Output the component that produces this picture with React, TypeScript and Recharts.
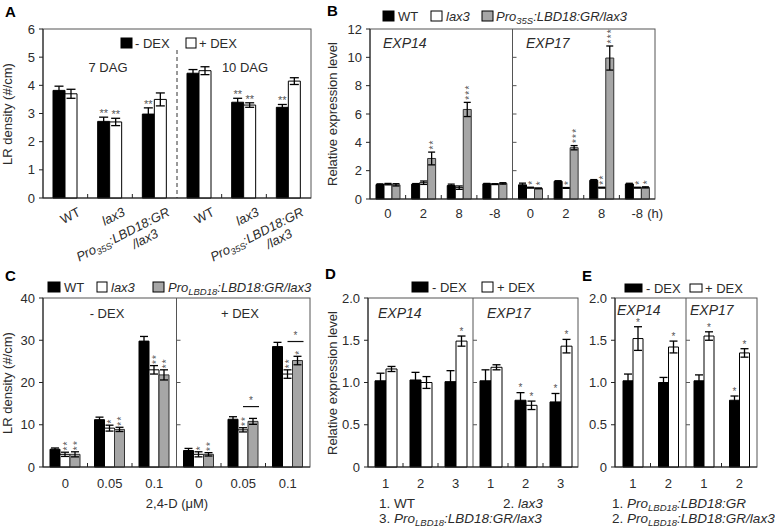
import React from 'react';
import { BarChart, Bar, XAxis, YAxis, ErrorBar, LabelList, ReferenceArea } from 'recharts';

const FONT = '"Liberation Sans", Arial, Helvetica, sans-serif';
const TXT = '#2b2b2b';
const AXIS = '#222';
const BOX = '#555';
const GREYBAR = '#a6a6a6';
const STAR = '#555';

// ---------- Panel A : LR density, 7 DAG / 10 DAG ----------
const aGenotypes = ['WT', 'lax3', 'pro35', 'WT', 'lax3', 'pro35'];
const aMinusDex = [3.82, 2.72, 2.98, 4.43, 3.4, 3.22];
const aMinusErr = [0.15, 0.15, 0.22, 0.13, 0.14, 0.1];
const aPlusDex = [3.7, 2.7, 3.5, 4.52, 3.3, 4.15];
const aPlusErr = [0.16, 0.13, 0.23, 0.14, 0.08, 0.12];
const aMinusSig = ['', '**', '**', '', '**', '**'];
const aPlusSig = ['', '**', '', '', '**', ''];
const aYTicks = [0, 1, 2, 3, 4, 5, 6];

// ---------- Panel B : EXP14 / EXP17 time course ----------
const bTimes = ['0', '2', '8', '-8', '0', '2', '8', '-8'];
const bWT = [1.02, 1.05, 0.95, 1.07, 1.0, 1.25, 1.32, 1.06];
const bWTErr = [0.05, 0.04, 0.1, 0.03, 0.12, 0.04, 0.05, 0.05];
const bLax3 = [1.05, 1.15, 0.8, 1.05, 0.8, 0.78, 0.8, 0.8];
const bLax3Err = [0.05, 0.12, 0.12, 0.03, 0.03, 0.03, 0.03, 0.03];
const bPro = [1.0, 2.86, 6.32, 1.1, 0.75, 3.62, 9.95, 0.82];
const bProErr = [0.08, 0.45, 0.5, 0.05, 0.03, 0.15, 0.85, 0.04];
const bLax3Sig = ['', '', '', '', '*', '*', '**', '*'];
const bProSig = ['', '**', '***', '', '*', '***', '***', '*'];
const bYTicks = [0, 2, 4, 6, 8, 10, 12];

// ---------- Panel C : LR density vs 2,4-D ----------
const cDoses = ['0', '0.05', '0.1', '0', '0.05', '0.1'];
const cWT = [4.2, 11.2, 29.8, 3.9, 11.3, 28.5];
const cWTErr = [0.3, 0.6, 1.1, 0.5, 0.6, 1.0];
const cLax3 = [3.0, 9.2, 23.0, 3.0, 8.8, 22.0];
const cLax3Err = [0.5, 0.7, 1.0, 0.6, 0.5, 1.0];
const cPro = [3.0, 8.9, 21.8, 3.0, 10.8, 25.2];
const cProErr = [0.6, 0.5, 1.2, 0.4, 0.7, 1.0];
const cLax3Sig = ['**', '*', '**', '*', '**', '**'];
const cProSig = ['**', '**', '**', '**', '', '*'];
const cBracket = [0, 0, 0, 0, 14.3, 29.7];
const cYTicks = [0, 10, 20, 30, 40];

// ---------- Panel D : EXP14 / EXP17, lines 1-3 ----------
const dLines = ['1', '2', '3', '1', '2', '3'];
const dMinusDex = [1.02, 1.03, 1.01, 1.02, 0.79, 0.77];
const dMinusErr = [0.09, 0.09, 0.13, 0.13, 0.09, 0.1];
const dPlusDex = [1.16, 1.0, 1.49, 1.18, 0.73, 1.43];
const dPlusErr = [0.03, 0.07, 0.06, 0.03, 0.05, 0.08];
const dMinusSig = ['', '', '', '', '*', '*'];
const dPlusSig = ['', '', '*', '', '*', '*'];
const exprTicks = [0, 0.5, 1, 1.5, 2];

// ---------- Panel E : EXP14 / EXP17, lines 1-2 ----------
const eLines = ['1', '2', '1', '2'];
const eMinusDex = [1.02, 1.0, 1.02, 0.79];
const eMinusErr = [0.08, 0.06, 0.07, 0.05];
const ePlusDex = [1.52, 1.42, 1.55, 1.35];
const ePlusErr = [0.14, 0.07, 0.05, 0.05];
const eMinusSig = ['', '', '', '*'];
const ePlusSig = ['*', '*', '*', '*'];

// ---------- tables ----------
const aRows = aGenotypes.map((g, i) => ({ k: String(i), idx: i, m: aMinusDex[i], me: aMinusErr[i], p: aPlusDex[i], pe: aPlusErr[i], ms: aMinusSig[i], ps: aPlusSig[i] }));
const bRows = bTimes.map((t, i) => ({ k: String(i), idx: i, w: bWT[i], we: bWTErr[i], l: bLax3[i], le: bLax3Err[i], r: bPro[i], re: bProErr[i], ls: bLax3Sig[i], rs: bProSig[i] }));
const cRows = cDoses.map((d, i) => ({ k: String(i), idx: i, w: cWT[i], we: cWTErr[i], l: cLax3[i], le: cLax3Err[i], r: cPro[i], re: cProErr[i], ls: cLax3Sig[i], rs: cProSig[i], br: cBracket[i] }));
const dRows = dLines.map((d, i) => ({ k: String(i), idx: i, m: dMinusDex[i], me: dMinusErr[i], p: dPlusDex[i], pe: dPlusErr[i], ms: dMinusSig[i], ps: dPlusSig[i] }));
const eRows = eLines.map((d, i) => ({ k: String(i), idx: i, m: eMinusDex[i], me: eMinusErr[i], p: ePlusDex[i], pe: ePlusErr[i], ms: eMinusSig[i], ps: ePlusSig[i] }));

// ---------- helpers ----------
const geom = (props: any) => {
  const vb = props.viewBox && props.viewBox.width != null ? props.viewBox : props;
  return { x: Number(vb.x), y: Number(vb.y), w: Number(vb.width), h: Number(vb.height) };
};

const makeStars = (rows: any[], v: string, e: string, s: string, mode: 'h' | 'v' | 's', fs: number, gap: number) => (props: any) => {
  const i = Number(props.value);
  const row = rows[i];
  const sig: string = row ? row[s] : '';
  if (!sig) return null;
  const { x, y, w, h } = geom(props);
  const ppu = h / row[v];
  const top = y - row[e] * ppu;
  const cx = x + w / 2;
  const lift = fs * 0.57;
  if (mode === 'h' || mode === 's') {
    return (
      <text x={cx} y={top - gap + lift} textAnchor="middle" fontSize={fs} fill={STAR} fontFamily={FONT}>{sig}</text>
    );
  }
  const ax = cx + lift;
  const ay = top - gap + fs * 0.19;
  return (
    <text transform={`translate(${ax},${ay}) rotate(-90)`} textAnchor="start" fontSize={fs} letterSpacing={1.2} fill={STAR} fontFamily={FONT}>{sig}</text>
  );
};

const bracketContent = (props: any) => {
  const i = Number(props.value);
  const row = cRows[i];
  if (!row || !row.br) return null;
  const { x, y, w, h } = geom(props);
  const ppu = h / row.r;
  const yy = y + h - row.br * ppu;
  const x1 = x - w / 2;
  const x2 = x + w + 1;
  return (
    <g>
      <line x1={x1} x2={x2} y1={yy} y2={yy} stroke="#111" strokeWidth={1.2} />
      <text x={(x1 + x2) / 2} y={yy - 8 + 5.7} textAnchor="middle" fontSize={10} fill={STAR} fontFamily={FONT}>*</text>
    </g>
  );
};

const boxShape = (p: any) => (
  <rect x={p.x} y={p.y} width={p.width} height={p.height} fill="none" stroke={BOX} strokeWidth={1} />
);

const sepShape = (fracs: number[], dashed: boolean, topGap: number) => (p: any) => {
  const xs = p.x + p.width;
  return (
    <g>
      <line x1={xs} x2={xs} y1={p.y + topGap} y2={p.y + p.height} stroke={dashed ? '#333' : BOX} strokeWidth={1} strokeDasharray={dashed ? '4 3' : undefined} />
      {fracs.map((f) => (
        <line key={f} x1={xs} x2={xs + 4} y1={p.y + p.height * (1 - f)} y2={p.y + p.height * (1 - f)} stroke={BOX} strokeWidth={1} />
      ))}
    </g>
  );
};

const innerTick = (p: any) => (
  <line x1={p.x + p.width} x2={p.x + p.width} y1={p.y + p.height} y2={p.y + p.height - 4} stroke={AXIS} strokeWidth={1} />
);

const yTickStyle = { fontSize: 13, fill: TXT, fontFamily: FONT };

const fmtExpr = (v: number) => (v === 0 ? '0' : v.toFixed(1));

// ---------- tick renderers ----------
const ATick = (props: any) => {
  const i = Number(props.payload.value);
  const g = aGenotypes[i];
  const common = { fontSize: 13, fill: TXT, fontFamily: FONT, textAnchor: 'end' as const };
  return (
    <g transform={`translate(${props.x + 16},${props.y + 17}) rotate(-27)`}>
      {g === 'WT' && <text {...common}>WT</text>}
      {g === 'lax3' && <text {...common} fontStyle="italic">lax3</text>}
      {g === 'pro35' && (
        <>
          <text {...common} fontStyle="italic">
            Pro<tspan fontSize={9} dy={3}>35S</tspan><tspan dy={-3}>:LBD18:GR</tspan>
          </text>
          <text {...common} x={-20} y={14} fontStyle="italic">/lax3</text>
        </>
      )}
    </g>
  );
};

const simpleTick = (labels: string[], dy: number, lastExtra?: string) => (props: any) => {
  const i = Number(props.payload.value);
  const s = labels[i];
  return (
    <g>
      <text x={props.x} y={props.y + dy} textAnchor="middle" fontSize={13} fill={TXT} fontFamily={FONT}>{s}</text>
      {lastExtra && i === labels.length - 1 && (
        <text x={props.x + 10} y={props.y + dy} textAnchor="start" fontSize={13} fill={TXT} fontFamily={FONT}>{lastExtra}</text>
      )}
    </g>
  );
};

// ---------- Panels ----------
const PanelA = () => (
  <div style={{ position: 'absolute', left: 0, top: 0 }}>
    <BarChart width={320} height={275} data={aRows} margin={{ top: 29, right: 9, left: 0, bottom: 0 }} barSize={12} barGap={0}>
      <ReferenceArea y1={0} y2={6} ifOverflow="visible" shape={boxShape} />
      <ReferenceArea x1="0" x2="2" y1={0} y2={6} ifOverflow="visible" shape={sepShape([], true, 21)} />
      {[0, 1, 3, 4].map((i) => (
        <ReferenceArea key={i} x1={String(i)} x2={String(i)} y1={0} y2={6} ifOverflow="visible" shape={innerTick} />
      ))}
      <XAxis dataKey="k" height={77} interval={0} tickLine={false} tickSize={0} tickMargin={0} axisLine={{ stroke: AXIS }} tick={(p: any) => <ATick {...p} />} />
      <YAxis width={43} domain={[0, 6]} ticks={aYTicks} interval={0} tickSize={4} tickMargin={4} tick={yTickStyle} axisLine={{ stroke: AXIS }} tickLine={{ stroke: AXIS }} />
      <Bar dataKey="m" fill="#000" stroke="#000" strokeWidth={1} isAnimationActive={false}>
        <ErrorBar dataKey="me" width={4.5} stroke="#000" strokeWidth={1.3} direction="y" isAnimationActive={false} />
        <LabelList dataKey="idx" content={makeStars(aRows, 'm', 'me', 'ms', 'h', 11, 6.5)} />
      </Bar>
      <Bar dataKey="p" fill="#fff" stroke="#000" strokeWidth={1} isAnimationActive={false}>
        <ErrorBar dataKey="pe" width={4.5} stroke="#000" strokeWidth={1.3} direction="y" isAnimationActive={false} />
        <LabelList dataKey="idx" content={makeStars(aRows, 'p', 'pe', 'ps', 'h', 11, 6.5)} />
      </Bar>
    </BarChart>
  </div>
);

const PanelB = () => (
  <div style={{ position: 'absolute', left: 320, top: 0 }}>
    <BarChart width={350} height={262} data={bRows} margin={{ top: 29, right: 15, left: 0, bottom: 0 }} barSize={8} barGap={0}>
      <ReferenceArea y1={0} y2={12} ifOverflow="visible" shape={boxShape} />
      <ReferenceArea x1="0" x2="3" y1={0} y2={12} ifOverflow="visible" shape={sepShape(bYTicks.slice(1, -1).map((t) => t / 12), false, 0)} />
      {[0, 1, 2, 4, 5, 6].map((i) => (
        <ReferenceArea key={i} x1={String(i)} x2={String(i)} y1={0} y2={12} ifOverflow="visible" shape={innerTick} />
      ))}
      <XAxis dataKey="k" height={63} interval={0} tickLine={false} tickSize={0} tickMargin={0} axisLine={{ stroke: AXIS }} tick={simpleTick(bTimes, 18.7, '(h)')} />
      <YAxis width={50} domain={[0, 12]} ticks={bYTicks} interval={0} tickSize={4} tickMargin={4} tick={yTickStyle} axisLine={{ stroke: AXIS }} tickLine={{ stroke: AXIS }} />
      <Bar dataKey="w" fill="#000" stroke="#000" strokeWidth={1} isAnimationActive={false}>
        <ErrorBar dataKey="we" width={3.5} stroke="#000" strokeWidth={1.3} direction="y" isAnimationActive={false} />
      </Bar>
      <Bar dataKey="l" fill="#fff" stroke="#000" strokeWidth={1} isAnimationActive={false}>
        <ErrorBar dataKey="le" width={3.5} stroke="#000" strokeWidth={1.3} direction="y" isAnimationActive={false} />
        <LabelList dataKey="idx" content={makeStars(bRows, 'l', 'le', 'ls', 'v', 10, 4.5)} />
      </Bar>
      <Bar dataKey="r" fill={GREYBAR} stroke="#333" strokeWidth={1} isAnimationActive={false}>
        <ErrorBar dataKey="re" width={3.5} stroke="#000" strokeWidth={1.3} direction="y" isAnimationActive={false} />
        <LabelList dataKey="idx" content={makeStars(bRows, 'r', 're', 'rs', 'v', 10, 4.5)} />
      </Bar>
    </BarChart>
  </div>
);

const PanelC = () => (
  <div style={{ position: 'absolute', left: 0, top: 280 }}>
    <BarChart width={320} height={230} data={cRows} margin={{ top: 18, right: 10, left: 0, bottom: 0 }} barSize={10} barGap={0}>
      <ReferenceArea y1={0} y2={40} ifOverflow="visible" shape={boxShape} />
      <ReferenceArea x1="0" x2="2" y1={0} y2={40} ifOverflow="visible" shape={sepShape(cYTicks.slice(1, -1).map((t) => t / 40), false, 0)} />
      {[0, 1, 3, 4].map((i) => (
        <ReferenceArea key={i} x1={String(i)} x2={String(i)} y1={0} y2={40} ifOverflow="visible" shape={innerTick} />
      ))}
      <XAxis dataKey="k" height={43} interval={0} tickLine={false} tickSize={0} tickMargin={0} axisLine={{ stroke: AXIS }} tick={simpleTick(cDoses, 20.7)} />
      <YAxis width={43} domain={[0, 40]} ticks={cYTicks} interval={0} tickSize={4} tickMargin={4} tick={yTickStyle} axisLine={{ stroke: AXIS }} tickLine={{ stroke: AXIS }} />
      <Bar dataKey="w" fill="#000" stroke="#000" strokeWidth={1} isAnimationActive={false}>
        <ErrorBar dataKey="we" width={4} stroke="#000" strokeWidth={1.3} direction="y" isAnimationActive={false} />
      </Bar>
      <Bar dataKey="l" fill="#fff" stroke="#000" strokeWidth={1} isAnimationActive={false}>
        <ErrorBar dataKey="le" width={4} stroke="#000" strokeWidth={1.3} direction="y" isAnimationActive={false} />
        <LabelList dataKey="idx" content={makeStars(cRows, 'l', 'le', 'ls', 'v', 10, 3.5)} />
      </Bar>
      <Bar dataKey="r" fill={GREYBAR} stroke="#333" strokeWidth={1} isAnimationActive={false}>
        <ErrorBar dataKey="re" width={4} stroke="#000" strokeWidth={1.3} direction="y" isAnimationActive={false} />
        <LabelList dataKey="idx" content={makeStars(cRows, 'r', 're', 'rs', 'v', 10, 3.5)} />
        <LabelList dataKey="idx" content={bracketContent} />
      </Bar>
    </BarChart>
  </div>
);

const PanelD = () => (
  <div style={{ position: 'absolute', left: 320, top: 280 }}>
    <BarChart width={265} height={230} data={dRows} margin={{ top: 18, right: 7, left: 0, bottom: 0 }} barSize={11} barGap={0}>
      <ReferenceArea y1={0} y2={2} ifOverflow="visible" shape={boxShape} />
      <ReferenceArea x1="0" x2="2" y1={0} y2={2} ifOverflow="visible" shape={sepShape(exprTicks.slice(1, -1).map((t) => t / 2), false, 0)} />
      {[0, 1, 3, 4].map((i) => (
        <ReferenceArea key={i} x1={String(i)} x2={String(i)} y1={0} y2={2} ifOverflow="visible" shape={innerTick} />
      ))}
      <XAxis dataKey="k" height={43} interval={0} tickLine={false} tickSize={0} tickMargin={0} axisLine={{ stroke: AXIS }} tick={simpleTick(dLines, 20.7)} />
      <YAxis width={48} domain={[0, 2]} ticks={exprTicks} interval={0} tickSize={4} tickMargin={4} tick={yTickStyle} tickFormatter={fmtExpr} axisLine={{ stroke: AXIS }} tickLine={{ stroke: AXIS }} />
      <Bar dataKey="m" fill="#000" stroke="#000" strokeWidth={1} isAnimationActive={false}>
        <ErrorBar dataKey="me" width={4} stroke="#000" strokeWidth={1.3} direction="y" isAnimationActive={false} />
        <LabelList dataKey="idx" content={makeStars(dRows, 'm', 'me', 'ms', 's', 10, 7)} />
      </Bar>
      <Bar dataKey="p" fill="#fff" stroke="#000" strokeWidth={1} isAnimationActive={false}>
        <ErrorBar dataKey="pe" width={4} stroke="#000" strokeWidth={1.3} direction="y" isAnimationActive={false} />
        <LabelList dataKey="idx" content={makeStars(dRows, 'p', 'pe', 'ps', 's', 10, 7)} />
      </Bar>
    </BarChart>
  </div>
);

const PanelE = () => (
  <div style={{ position: 'absolute', left: 585, top: 280 }}>
    <BarChart width={190} height={230} data={eRows} margin={{ top: 18, right: 18, left: 0, bottom: 0 }} barSize={10} barGap={0}>
      <ReferenceArea y1={0} y2={2} ifOverflow="visible" shape={boxShape} />
      <ReferenceArea x1="0" x2="1" y1={0} y2={2} ifOverflow="visible" shape={sepShape(exprTicks.slice(1, -1).map((t) => t / 2), false, 0)} />
      {[0, 2].map((i) => (
        <ReferenceArea key={i} x1={String(i)} x2={String(i)} y1={0} y2={2} ifOverflow="visible" shape={innerTick} />
      ))}
      <XAxis dataKey="k" height={43} interval={0} tickLine={false} tickSize={0} tickMargin={0} axisLine={{ stroke: AXIS }} tick={simpleTick(eLines, 20.7)} />
      <YAxis width={30} domain={[0, 2]} ticks={exprTicks} interval={0} tickSize={4} tickMargin={4} tick={yTickStyle} tickFormatter={fmtExpr} axisLine={{ stroke: AXIS }} tickLine={{ stroke: AXIS }} />
      <Bar dataKey="m" fill="#000" stroke="#000" strokeWidth={1} isAnimationActive={false}>
        <ErrorBar dataKey="me" width={4} stroke="#000" strokeWidth={1.3} direction="y" isAnimationActive={false} />
        <LabelList dataKey="idx" content={makeStars(eRows, 'm', 'me', 'ms', 's', 10, 6.5)} />
      </Bar>
      <Bar dataKey="p" fill="#fff" stroke="#000" strokeWidth={1} isAnimationActive={false}>
        <ErrorBar dataKey="pe" width={4} stroke="#000" strokeWidth={1.3} direction="y" isAnimationActive={false} />
        <LabelList dataKey="idx" content={makeStars(eRows, 'p', 'pe', 'ps', 's', 10, 6.5)} />
      </Bar>
    </BarChart>
  </div>
);

// ---------- overlay text ----------
const T = ({ x, y, s = 13, a = 'start', it = false, b = false, children }: any) => (
  <text x={x} y={y + s * 0.36} fontSize={s} textAnchor={a} fontStyle={it ? 'italic' : 'normal'} fontWeight={b ? 'bold' : 'normal'} fill={b ? '#000' : TXT} fontFamily={FONT}>
    {children}
  </text>
);

const VT = ({ x, y, children }: any) => (
  <text transform={`translate(${x + 4.7},${y}) rotate(-90)`} textAnchor="middle" fontSize={13} fill={TXT} fontFamily={FONT}>{children}</text>
);

const Sw = ({ x, y, w, h, fill }: any) => (
  <rect x={x} y={y} width={w} height={h} fill={fill} stroke="#000" strokeWidth={1} />
);

const ProSub = ({ sub, tail }: any) => (
  <>
    <tspan fontStyle="italic">Pro</tspan>
    <tspan fontStyle="italic" fontSize={9.5} dy={3}>{sub}</tspan>
    <tspan fontStyle="italic" dy={-3}>{tail}</tspan>
  </>
);

const Overlay = () => (
  <svg width={775} height={528} style={{ position: 'absolute', left: 0, top: 0, pointerEvents: 'none' }}>
    {/* panel letters */}
    <T x={5} y={12} s={15} b>A</T>
    <T x={327} y={11} s={15} b>B</T>
    <T x={5} y={276} s={15} b>C</T>
    <T x={325} y={274} s={15} b>D</T>
    <T x={582} y={276} s={15} b>E</T>

    {/* A */}
    <Sw x={121} y={38} w={11} h={10} fill="#000" />
    <T x={135} y={43}>- DEX</T>
    <Sw x={186} y={38} w={10} h={10} fill="#fff" />
    <T x={199} y={43}>+ DEX</T>
    <T x={108} y={67} a="middle">7 DAG</T>
    <T x={245} y={67} a="middle">10 DAG</T>
    <VT x={7} y={114}>LR density (#/cm)</VT>

    {/* B */}
    <Sw x={383} y={11} w={11} h={10} fill="#000" />
    <T x={398} y={16}>WT</T>
    <Sw x={431} y={11} w={11} h={10} fill="#fff" />
    <T x={446} y={16} it>lax3</T>
    <Sw x={482} y={11} w={11} h={10} fill={GREYBAR} />
    <T x={496} y={16}><ProSub sub="35S" tail=":LBD18:GR/lax3" /></T>
    <T x={383} y={43} s={14} it>EXP14</T>
    <T x={526} y={43} s={14} it>EXP17</T>
    <VT x={332} y={114}>Relative expression level</VT>

    {/* C */}
    <Sw x={48} y={282} w={12} h={10} fill="#000" />
    <T x={64} y={287}>WT</T>
    <Sw x={97} y={282} w={10} h={10} fill="#fff" />
    <T x={111} y={287} it>lax3</T>
    <Sw x={153} y={282} w={11} h={10} fill={GREYBAR} />
    <T x={168} y={287}><ProSub sub="LBD18" tail=":LBD18:GR/lax3" /></T>
    <T x={107} y={313} a="middle">- DEX</T>
    <T x={240} y={313} a="middle">+ DEX</T>
    <T x={177} y={503} a="middle">2,4-D (μM)</T>
    <VT x={7} y={383}>LR density (#/cm)</VT>

    {/* D */}
    <Sw x={412} y={282} w={16} h={10} fill="#000" />
    <T x={432} y={287}>- DEX</T>
    <Sw x={482} y={282} w={11} h={10} fill="#fff" />
    <T x={497} y={287}>+ DEX</T>
    <T x={378} y={313} s={14} it>EXP14</T>
    <T x={487} y={313} s={14} it>EXP17</T>
    <VT x={332} y={383}>Relative expression level</VT>
    <T x={379} y={503} s={13.5}>1. WT</T>
    <T x={503} y={503} s={13.5}>2. <tspan fontStyle="italic">lax3</tspan></T>
    <T x={379} y={518} s={13.5}>3. <ProSub sub="LBD18" tail=":LBD18:GR/lax3" /></T>

    {/* E */}
    <Sw x={625} y={284} w={17} h={8} fill="#000" />
    <T x={646} y={288}>- DEX</T>
    <Sw x={690} y={284} w={12} h={8} fill="#fff" />
    <T x={705} y={288}>+ DEX</T>
    <T x={617} y={310} s={14} it>EXP14</T>
    <T x={690} y={310} s={14} it>EXP17</T>
    <T x={612} y={503} s={13.5}>1. <ProSub sub="LBD18" tail=":LBD18:GR" /></T>
    <T x={612} y={518} s={13.5}>2. <ProSub sub="LBD18" tail=":LBD18:GR/lax3" /></T>
  </svg>
);

export default function App() {
  return (
    <div style={{ position: 'absolute', left: 0, top: 0, width: 775, height: 528, background: '#fff', fontFamily: FONT, overflow: 'hidden' }}>
      <PanelA />
      <PanelB />
      <PanelC />
      <PanelD />
      <PanelE />
      <Overlay />
    </div>
  );
}
